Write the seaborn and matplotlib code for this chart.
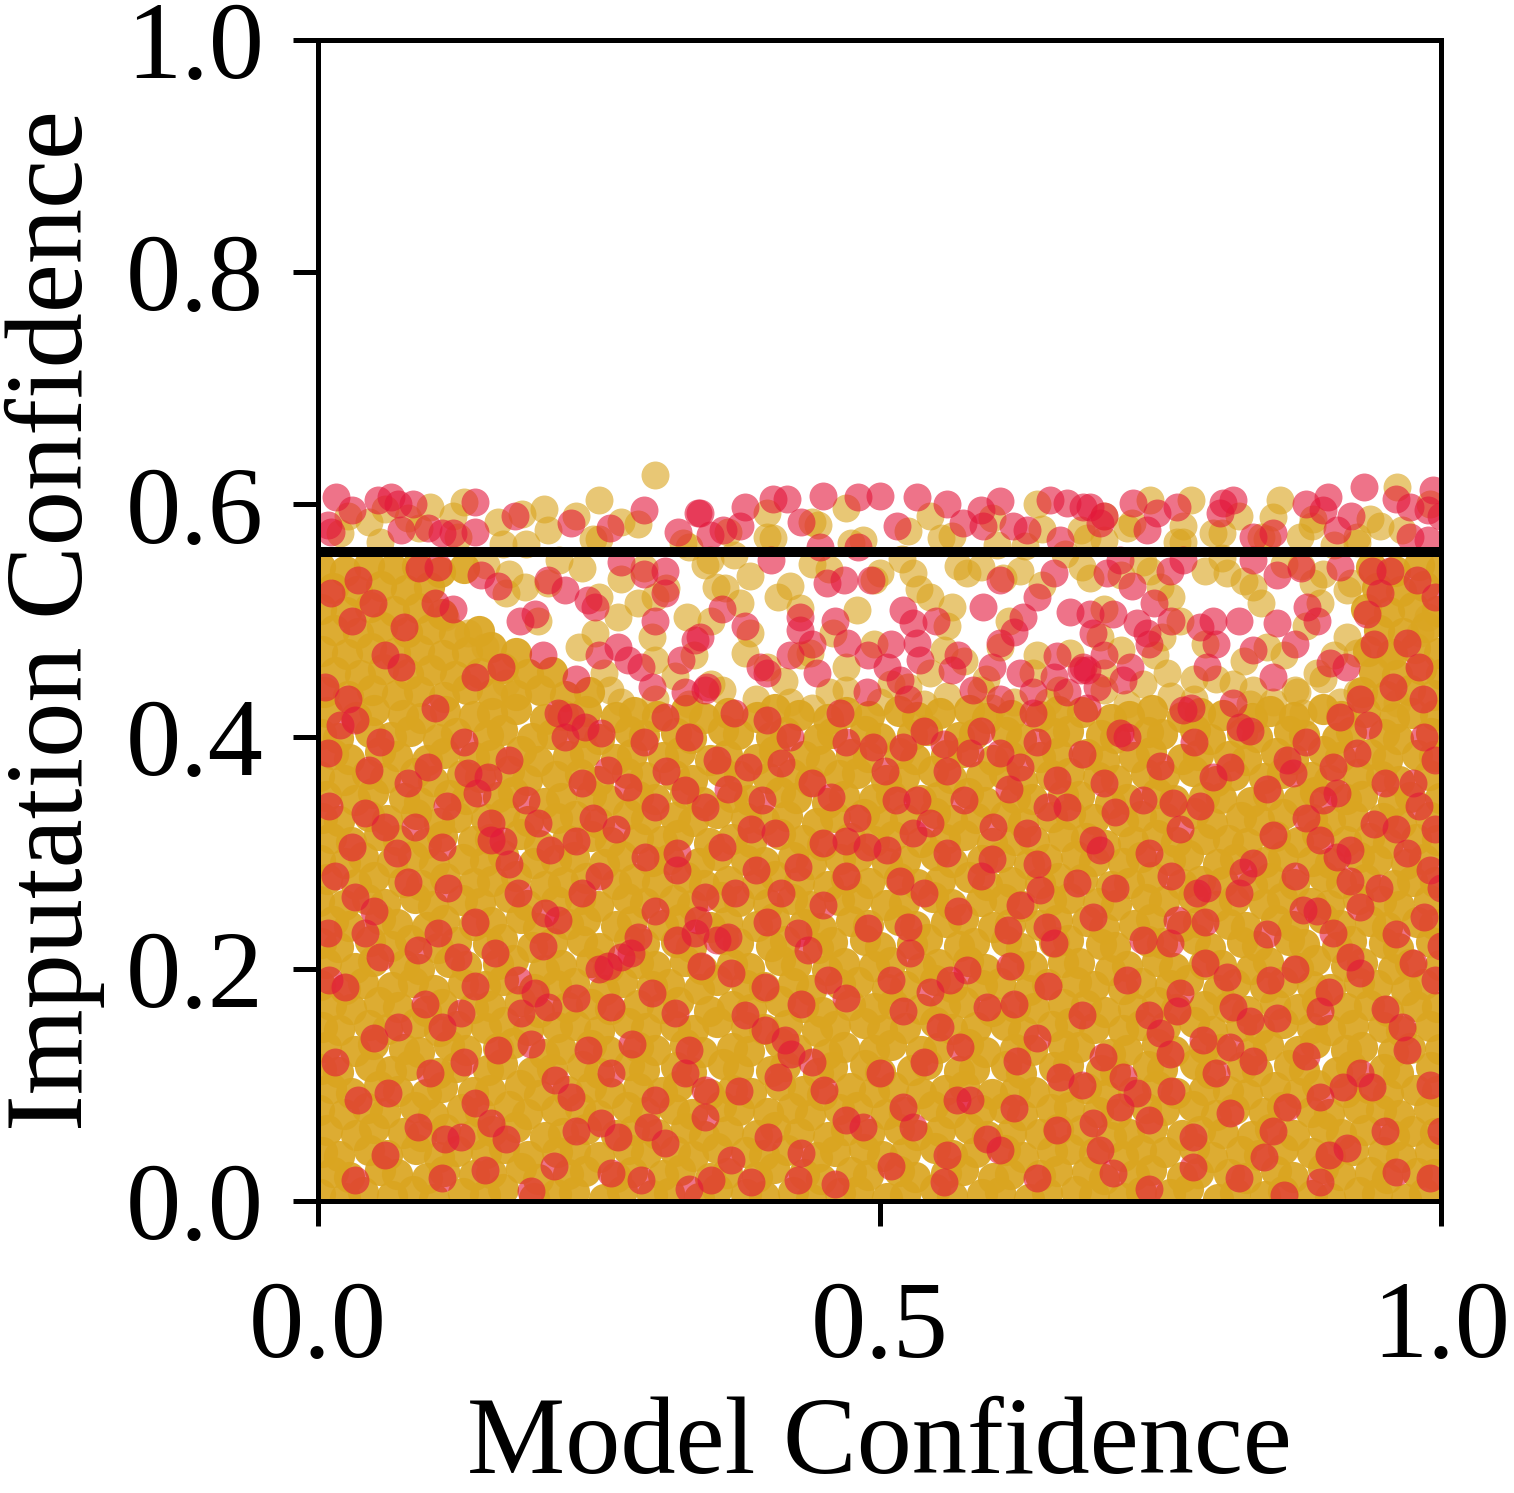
import numpy as np
import pandas as pd
import matplotlib
matplotlib.use("Agg")
import matplotlib.pyplot as plt
import seaborn as sns

# values are in thousandths of the axis range
# dense yellow cloud below ~0.42
yellow_core_x = [
    2,24,40,66,85,103,129,149,165,192,212,228,255,271,297,313,339,355,381,397,423,439,465,481,507,523,549,565,591,607,633,649,675,691,717,733,759,775,801,817,843,859,885,901,927,943,969,985,
    13,28,55,70,97,112,139,154,181,196,223,238,265,280,307,322,349,364,391,406,433,448,475,490,517,532,559,574,601,616,643,658,685,700,727,742,769,784,811,826,853,868,895,910,937,952,979,994,
    4,19,45,61,87,108,124,150,166,187,213,229,250,276,292,318,334,355,381,397,418,444,460,486,502,523,549,565,586,612,628,654,670,691,717,733,754,780,796,822,838,859,885,901,922,948,964,990,
    8,34,50,76,92,113,139,155,176,202,218,239,265,281,302,328,344,365,391,407,428,454,470,491,517,533,554,580,596,617,643,659,680,706,722,743,769,785,806,832,848,869,895,911,932,958,974,995,
    1,23,44,60,86,102,128,144,170,186,212,233,249,275,291,317,333,359,375,401,422,438,464,480,506,522,548,564,590,611,627,653,669,695,711,737,753,779,800,816,842,858,884,900,926,947,963,989,
    12,29,54,71,96,110,138,153,180,197,222,243,260,285,306,321,348,369,386,411,432,449,474,495,512,537,558,575,600,621,638,663,684,701,726,747,764,789,810,827,852,873,890,915,936,953,978,996,
    3,18,46,65,82,107,123,151,164,191,208,235,250,277,290,319,332,361,374,403,416,445,458,487,500,529,542,571,584,613,626,655,668,697,710,739,752,781,794,823,836,865,878,907,920,949,962,991,
    7,33,49,77,90,117,132,160,174,201,216,243,258,285,300,327,342,369,384,411,426,453,468,495,510,537,552,579,594,621,636,663,678,705,720,747,762,789,804,831,846,873,888,915,930,957,972,999,
    4,19,45,61,87,108,124,150,166,187,213,229,250,276,292,318,334,355,381,397,418,444,460,486,502,523,549,565,586,612,628,654,670,691,717,733,754,780,796,822,838,859,885,901,922,948,964,990,
    12,29,54,71,96,110,138,153,180,197,222,243,260,285,306,321,348,369,386,411,432,449,474,495,512,537,558,575,600,621,638,663,684,701,726,747,764,789,810,827,852,873,890,915,936,953,978,996,
    2,24,40,66,85,103,129,149,165,192,212,228,255,271,297,313,339,355,381,397,423,439,465,481,507,523,549,565,591,607,633,649,675,691,717,733,759,775,801,817,843,859,885,901,927,943,969,985,
    7,33,49,77,90,117,132,160,174,201,216,243,258,285,300,327,342,369,384,411,426,453,468,495,510,537,552,579,594,621,636,663,678,705,720,747,762,789,804,831,846,873,888,915,930,957,972,999,
    3,18,46,65,82,107,123,151,164,191,208,235,250,277,290,319,332,361,374,403,416,445,458,487,500,529,542,571,584,613,626,655,668,697,710,739,752,781,794,823,836,865,878,907,920,949,962,991,
    13,28,55,70,97,112,139,154,181,196,223,238,265,280,307,322,349,364,391,406,433,448,475,490,517,532,559,574,601,616,643,658,685,700,727,742,769,784,811,826,853,868,895,910,937,952,979,994,
    1,23,44,60,86,102,128,144,170,186,212,233,249,275,291,317,333,359,375,401,422,438,464,480,506,522,548,564,590,611,627,653,669,695,711,737,753,779,800,816,842,858,884,900,926,947,963,989,
    8,34,50,76,92,113,139,155,176,202,218,239,265,281,302,328,344,365,391,407,428,454,470,491,517,533,554,580,596,617,643,659,680,706,722,743,769,785,806,832,848,869,895,911,932,958,974,995,
    2,24,40,66,85,103,129,149,165,192,212,228,255,271,297,313,339,355,381,397,423,439,465,481,507,523,549,565,591,607,633,649,675,691,717,733,759,775,801,817,843,859,885,901,927,943,969,985,
    12,29,54,71,96,110,138,153,180,197,222,243,260,285,306,321,348,369,386,411,432,449,474,495,512,537,558,575,600,621,638,663,684,701,726,747,764,789,810,827,852,873,890,915,936,953,978,996,
    4,19,45,61,87,108,124,150,166,187,213,229,250,276,292,318,334,355,381,397,418,444,460,486,502,523,549,565,586,612,628,654,670,691,717,733,754,780,796,822,838,859,885,901,922,948,964,990,
    7,33,49,77,90,117,132,160,174,201,216,243,258,285,300,327,342,369,384,411,426,453,468,495,510,537,552,579,594,621,636,663,678,705,720,747,762,789,804,831,846,873,888,915,930,957,972,999,
    1,23,44,60,86,102,128,144,170,186,212,233,249,275,291,317,333,359,375,401,422,438,464,480,506,522,548,564,590,611,627,653,669,695,711,737,753,779,800,816,842,858,884,900,926,947,963,989,
    13,28,55,70,97,112,139,154,181,196,223,238,265,280,307,322,349,364,391,406,433,448,475,490,517,532,559,574,601,616,643,658,685,700,727,742,769,784,811,826,853,868,895,910,937,952,979,994,
    3,18,46,65,82,107,123,151,164,191,208,235,250,277,290,319,332,361,374,403,416,445,458,487,500,529,542,571,584,613,626,655,668,697,710,739,752,781,794,823,836,865,878,907,920,949,962,991,
    8,34,50,76,92,113,139,155,176,202,218,239,265,281,302,328,344,365,391,407,428,454,470,491,517,533,554,580,596,617,643,659,680,706,722,743,769,785,806,832,848,869,895,911,932,958,974,995,
    # left and right shoulders reaching up to the line
    5,27,48,70,90,112,133,155,176,198,220,241,
    15,37,58,80,101,122,144,165,187,208,
    4,26,47,69,90,111,133,154,176,
    14,36,57,79,100,121,143,
    3,25,46,68,89,110,
    13,35,56,78,99,
    2,24,45,67,88,109,130,
    930,951,972,993, 940,961,982,1000, 935,956,977,998, 945,966,987,
    933,954,975,996, 943,964,985, 938,959,980,1000,
]
yellow_core_y = [
    6,3,8,4,9,2,7,5,10,3,6,8,2,9,5,7,3,10,6,4,8,2,7,9,3,5,10,4,6,8,2,7,9,5,3,8,6,10,2,7,4,9,5,3,8,6,2,7,
    25,21,27,23,20,26,22,24,28,19,23,26,21,25,22,27,20,24,21,28,23,19,25,22,26,21,24,27,20,23,22,26,25,19,22,27,21,24,23,20,26,21,28,22,25,20,24,23,
    42,39,44,40,45,38,43,41,46,39,42,44,38,45,41,43,39,46,42,40,44,38,43,45,39,41,46,40,42,44,38,43,45,41,39,44,42,46,38,43,40,45,41,39,44,42,38,43,
    61,57,63,59,56,62,58,60,64,55,59,62,57,61,58,63,56,60,57,64,59,55,61,58,62,57,60,63,56,59,58,62,61,55,58,63,57,60,59,56,62,57,64,58,61,56,60,59,
    78,75,80,76,81,74,79,77,82,75,78,80,74,81,77,79,75,82,78,76,80,74,79,81,75,77,82,76,78,80,74,79,81,77,75,80,78,82,74,79,76,81,77,75,80,78,74,79,
    97,93,99,95,92,98,94,96,100,91,95,98,93,97,94,99,92,96,93,100,95,91,97,94,98,93,96,99,92,95,94,98,97,91,94,99,93,96,95,92,98,93,100,94,97,92,96,95,
    114,111,116,112,117,110,115,113,118,111,114,116,110,117,113,115,111,118,114,112,116,110,115,117,111,113,118,112,114,116,110,115,117,113,111,116,114,118,110,115,112,117,113,111,116,114,110,115,
    133,129,135,131,128,134,130,132,136,127,131,134,129,133,130,135,128,132,129,136,131,127,133,130,134,129,132,135,128,131,130,134,133,127,130,135,129,132,131,128,134,129,136,130,133,128,132,131,
    150,147,152,148,153,146,151,149,154,147,150,152,146,153,149,151,147,154,150,148,152,146,151,153,147,149,154,148,150,152,146,151,153,149,147,152,150,154,146,151,148,153,149,147,152,150,146,151,
    169,165,171,167,164,170,166,168,172,163,167,170,165,169,166,171,164,168,165,172,167,163,169,166,170,165,168,171,164,167,166,170,169,163,166,171,165,168,167,164,170,165,172,166,169,164,168,167,
    186,183,188,184,189,182,187,185,190,183,186,188,182,189,185,187,183,190,186,184,188,182,187,189,183,185,190,184,186,188,182,187,189,185,183,188,186,190,182,187,184,189,185,183,188,186,182,187,
    205,201,207,203,200,206,202,204,208,199,203,206,201,205,202,207,200,204,201,208,203,199,205,202,206,201,204,207,200,203,202,206,205,199,202,207,201,204,203,200,206,201,208,202,205,200,204,203,
    222,219,224,220,225,218,223,221,226,219,222,224,218,225,221,223,219,226,222,220,224,218,223,225,219,221,226,220,222,224,218,223,225,221,219,224,222,226,218,223,220,225,221,219,224,222,218,223,
    241,237,243,239,236,242,238,240,244,235,239,242,237,241,238,243,236,240,237,244,239,235,241,238,242,237,240,243,236,239,238,242,241,235,238,243,237,240,239,236,242,237,244,238,241,236,240,239,
    258,255,260,256,261,254,259,257,262,255,258,260,254,261,257,259,255,262,258,256,260,254,259,261,255,257,262,256,258,260,254,259,261,257,255,260,258,262,254,259,256,261,257,255,260,258,254,259,
    277,273,279,275,272,278,274,276,280,271,275,278,273,277,274,279,272,276,273,280,275,271,277,274,278,273,276,279,272,275,274,278,277,271,274,279,273,276,275,272,278,273,280,274,277,272,276,275,
    294,291,296,292,297,290,295,293,298,291,294,296,290,297,293,295,291,298,294,292,296,290,295,297,291,293,298,292,294,296,290,295,297,293,291,296,294,298,290,295,292,297,293,291,296,294,290,295,
    313,309,315,311,308,314,310,312,316,307,311,314,309,313,310,315,308,312,309,316,311,307,313,310,314,309,312,315,308,311,310,314,313,307,310,315,309,312,311,308,314,309,316,310,313,308,312,311,
    330,327,332,328,333,326,331,329,334,327,330,332,326,333,329,331,327,334,330,328,332,326,331,333,327,329,334,328,330,332,326,331,333,329,327,332,330,334,326,331,328,333,329,327,332,330,326,331,
    349,345,351,347,344,350,346,348,352,343,347,350,345,349,346,351,344,348,345,352,347,343,349,346,350,345,348,351,344,347,346,350,349,343,346,351,345,348,347,344,350,345,352,346,349,344,348,347,
    366,363,368,364,369,362,367,365,370,363,366,368,362,369,365,367,363,370,366,364,368,362,367,369,363,365,370,364,366,368,362,367,369,365,363,368,366,370,362,367,364,369,365,363,368,366,362,367,
    385,381,387,383,380,386,382,384,388,379,383,386,381,385,382,387,380,384,381,388,383,379,385,382,386,381,384,387,380,383,382,386,385,379,382,387,381,384,383,380,386,381,388,382,385,380,384,383,
    402,399,404,400,405,398,403,401,406,399,402,404,398,405,401,403,399,406,402,400,404,398,403,405,399,401,406,400,402,404,398,403,405,401,399,404,402,406,398,403,400,405,401,399,404,402,398,403,
    421,417,423,419,416,422,418,420,424,415,419,422,417,421,418,423,416,420,417,424,419,415,421,418,422,417,420,423,416,419,418,422,421,415,418,423,417,420,419,416,422,417,424,418,421,416,420,419,
    438,435,440,436,439,434,441,437,436,440,435,438,
    456,453,458,454,457,452,455,459,454,456,
    474,471,476,472,475,470,473,477,472,
    492,489,494,490,493,488,491,
    510,507,512,508,511,506,
    528,525,530,526,529,
    546,543,548,544,547,542,545,
    438,435,440,436, 456,453,458,454, 474,471,476,472, 492,489,494,
    510,507,512,508, 528,525,530, 546,543,548,544,
]

# looser yellow points between ~0.42 and ~0.63
yellow_top_x = [
    150,185,215,250,290,330,370,400,440,475,520,555,590,630,665,700,735,770,805,840,875,905,
    170,205,235,270,310,345,385,420,455,495,535,570,610,645,680,715,750,790,825,860,895,920,
    20,55,90,125,165,205,245,285,325,365,405,445,485,525,565,605,645,685,725,765,805,845,885,925,965,
    27,45,80,100,120,160,182,201,230,250,270,300,60,130,400,440,470,545,600,640,700,741,777,857,850,961,937,946,886,925,770,797,874,679,990,820,720,
    167,184,113,134,297,300,232,247,149,167,285,354,329,267,196,
    362,376,429,480,565,438,459,385,557,607,670,625,687,500,530,578,349,525,590,400,637,
    741,809,833,886,892,916,696,752,768,845,872,916,925,955,981,756,833,877,925,961,988,
    260,300,350,420,470,560,620,700,760,800,850,890,
    255,270,318,335,360,380,415,430,455,470,495,510,545,560,575,595,615,640,660,700,715,735,745,780,790,815,825,860,880,895,905,
    350,410,545,700,760,840,300,250,
    330,390,440,500,540,600,650,720,780,830,870,910,
]
yellow_top_y = [
    548,566,552,570,545,563,556,572,549,567,553,571,546,564,557,569,550,568,554,572,547,565,
    540,532,545,536,528,548,538,530,544,535,527,547,537,531,546,539,529,543,534,549,540,532,
    575,568,580,572,566,578,570,583,567,576,571,582,569,577,573,565,579,571,584,568,575,570,581,567,578,
    590,585,588,598,590,585,592,596,590,604,585,625,596,602,593,585,597,590,588,600,590,604,604,604,589,615,587,581,587,572,581,575,572,578,600,590,580,
    524,529,503,489,486,466,477,489,477,446,515,529,503,503,500,
    528,515,511,509,512,472,489,489,475,477,472,543,537,541,541,541,552,443,440,460,455,
    543,541,529,532,515,526,486,486,500,477,438,486,472,469,489,455,440,420,438,429,503,
    440,432,445,430,440,435,430,440,435,450,430,455,
    455,430,452,470,440,472,448,470,438,460,480,445,455,495,465,450,500,470,440,455,475,445,470,450,480,445,465,470,495,450,470,
    500,520,520,510,520,515,520,520,
    428,432,425,430,428,425,430,428,432,428,440,430,
]

red_x = [
    9,45,98,134,151,142,154,154,60,86,42,196,207,258,276,300,327,345,383,412,386,407,427,450,457,
    291,345,338,371,412,427,436,336,365,285,270,202,214,178,116,33,42,9,107,89,125,158,
    24,71,110,127,178,193,205,181,258,261,279,297,318,341,368,398,416,421,398,454,261,211,160,
    140,62,36,89,113,127,154,167,190,149,33,252,267,294,309,300,327,345,345,368,386,401,430,
    410,451,288,261,350,427,
    494,521,557,581,607,625,658,649,667,690,696,631,601,533,545,530,489,507,518,761,768,797,
    812,863,868,904,925,907,892,907,919,919,928,877,824,833,792,783,765,676,643,614,578,563,
    527,525,649,655,720,768,809,815,848,812,833,863,892,913,928,904,919,928,939,759,750,779,
    779,812,842,892,916,729,714,690,696,708,658,607,596,557,530,521,485,569,581,661,622,596,
    554,521,572,616,699,717,788,765,759,854,892,
    980,995,970,990,1000,975,995,985,1000,995,965,990,1000,990,
    20,55,80,115,130,170,185,220,235,245,290,310,330,355,365,395,420,440,470,480,505,515,540,560,575,
    590,615,640,680,700,720,735,750,780,785,830,845,880,895,935,950,960,985,10,30,70,110,165,230,
    265,320,360,470,560,600,710,740,850,880,940,
    15,50,80,140,170,200,235,250,300,320,355,390,400,450,470,490,540,570,590,625,640,690,710,735,
    760,790,820,845,870,890,945,960,10,55,95,140,230,250,320,380,430,470,510,545,620,650,680,740,
    790,830,870,900,950,975,
    15,50,100,130,190,225,240,280,330,375,440,470,500,540,560,620,640,680,740,760,800,850,880,900,
    950,970,60,110,210,230,330,460,510,640,740,820,860,960,
    # above 0.4
    16,53,65,71,140,338,225,9,12,74,98,110,140,321,349,36,12,107,145,49,104,77,205,220,240,
    247,193,309,309,336,323,267,276,163,140,6,27,33,74,104,214,225,238,252,288,297,327,345,309,
    340,405,418,450,481,500,533,376,361,516,607,619,652,667,681,574,592,631,661,447,481,403,
    453,468,492,607,655,521,530,592,628,429,429,670,471,533,536,607,690,658,681,340,346,394,
    400,444,507,518,565,583,625,637,655,685,667,370,400,489,525,607,637,685,465,
    687,726,747,738,806,815,803,833,899,895,931,972,988,993,907,972,988,696,714,759,770,854,
    833,910,939,955,979,703,708,687,744,797,785,729,738,854,881,934,946,833,901,850,792,679,
    723,694,717,970,957,928,770,815,821,910,984,714,777,
    30,85,120,175,260,290,380,430,560,590,700,765,850,880,920,960,1000,
    360,380,420,440,460,490,510,550,570,600,620,700,740,760,800,820,870,890,915,940,980,
    300,250,230,200,180,160,120,60,30,90,290,270,640,725,875,995,
]
red_y = [
    386,371,374,369,365,351,326,311,322,322,334,326,302,371,357,339,354,339,374,377,320,317,288,308,348,
    296,262,242,265,265,231,216,231,227,227,210,248,242,265,270,262,231,231,231,216,210,214,
    184,150,150,162,190,179,167,162,202,167,214,179,162,202,196,184,139,127,147,190,110,104,130,
    84,93,87,64,53,55,67,53,9,27,18,67,55,64,50,87,110,96,72,35,16,55,41,
    107,96,18,24,18,18,
    391,391,394,386,386,374,363,339,339,311,302,317,322,345,326,317,305,302,276,343,320,365,
    374,380,369,374,386,351,311,296,302,276,253,251,283,291,270,265,242,274,268,233,199,190,
    214,236,236,222,190,179,193,167,190,133,121,81,90,98,110,231,210,196,98,127,145,55,
    29,76,38,16,46,93,81,67,44,24,61,44,53,16,64,81,64,87,87,107,121,167,
    150,164,133,202,124,107,139,164,222,158,164,
    340,320,300,285,270,360,380,245,220,190,150,100,60,20,
    410,395,360,340,395,380,345,400,360,330,395,370,400,380,355,345,400,360,395,330,370,345,405,370,345,
    405,355,395,385,360,400,345,375,395,340,405,355,395,345,410,360,320,400,340,305,300,305,310,310,
    320,300,305,310,300,295,335,300,315,330,325,
    280,250,275,240,290,220,265,280,250,285,225,285,240,255,280,235,265,250,280,255,290,245,270,225,
    280,240,265,230,280,250,270,230,190,210,170,185,175,200,225,160,170,175,190,180,170,185,160,160,
    205,155,200,180,165,205,
    120,140,110,120,135,90,130,135,130,95,120,70,110,120,40,80,140,100,70,95,110,60,125,40,
    60,130,40,20,30,60,10,15,30,20,10,20,5,25,
    606,604,606,600,602,593,584,582,576,578,580,575,576,576,574,535,524,546,539,515,515,494,535,526,518,
    512,506,543,524,483,466,477,466,460,451,443,432,414,460,425,420,417,408,403,460,443,438,440,417,
    593,605,605,607,606,607,606,581,578,581,603,581,604,601,598,584,581,578,569,563,563,552,
    532,535,535,535,541,509,498,512,503,503,492,507,481,481,466,481,489,469,460,486,443,460,
    455,455,460,449,457,440,455,438,451,457,438,420,414,438,432,432,420,425,420,
    598,601,593,578,601,604,593,572,606,595,615,598,595,612,578,572,569,584,552,543,552,539,
    552,546,543,543,535,541,506,506,515,500,494,498,489,498,512,506,524,475,463,451,460,457,
    460,443,449,481,443,432,423,429,408,417,432,403,425,
    595,600,575,590,580,595,598,585,600,595,590,598,575,600,590,605,590,
    510,495,470,480,500,470,480,500,470,460,490,470,480,500,480,500,480,500,460,480,460,
    500,470,450,470,500,530,510,470,500,545,540,550,520,530,545,520,
]

threshold = 0.559

core = pd.DataFrame({"model": np.array(yellow_core_x) / 1000, "imput": np.array(yellow_core_y) / 1000})
top = pd.DataFrame({"model": np.array(yellow_top_x) / 1000, "imput": np.array(yellow_top_y) / 1000})
red = pd.DataFrame({"model": np.array(red_x) / 1000, "imput": np.array(red_y) / 1000})

sns.set_theme(style="ticks")
plt.rcParams["font.family"] = ["Liberation Serif", "DejaVu Serif"]

fig = plt.figure(figsize=(1514 / 300, 1493 / 300), dpi=300)
ax = fig.add_axes([318 / 1514, 1 - 1201 / 1493, 1123 / 1514, 1161 / 1493])

# the dense cloud is many overlapping points in the original, so it is drawn more opaque
sns.scatterplot(data=core, x="model", y="imput", color="#DAA520", alpha=0.92,
                s=56, linewidth=0, ax=ax)
sns.scatterplot(data=top, x="model", y="imput", color="#DAA520", alpha=0.62,
                s=45, linewidth=0, ax=ax)
sns.scatterplot(data=red, x="model", y="imput", color="#E3163A", alpha=0.6,
                s=45, linewidth=0, ax=ax)

ax.axhline(threshold, color="black", lw=2.4)

ax.set_xlim(0, 1)
ax.set_ylim(0, 1)
ax.set_xticks([0, 0.5, 1.0])
ax.set_xticklabels(["0.0", "0.5", "1.0"])
ax.set_yticks([0, 0.2, 0.4, 0.6, 0.8, 1.0])
ax.set_yticklabels(["0.0", "0.2", "0.4", "0.6", "0.8", "1.0"])
ax.tick_params(axis="both", labelsize=26.5, length=6, width=1.2, color="black", labelcolor="black")
ax.tick_params(axis="x", pad=13)
ax.tick_params(axis="y", pad=7)
for sp in ax.spines.values():
    sp.set_linewidth(1.2)
    sp.set_color("black")
    sp.set_visible(True)

ax.set_xlabel("Model Confidence", fontsize=26.5, labelpad=4, color="black")
ax.set_ylabel("Imputation Confidence", fontsize=26.5, labelpad=5, color="black")

fig.savefig("out.png", dpi=300)
